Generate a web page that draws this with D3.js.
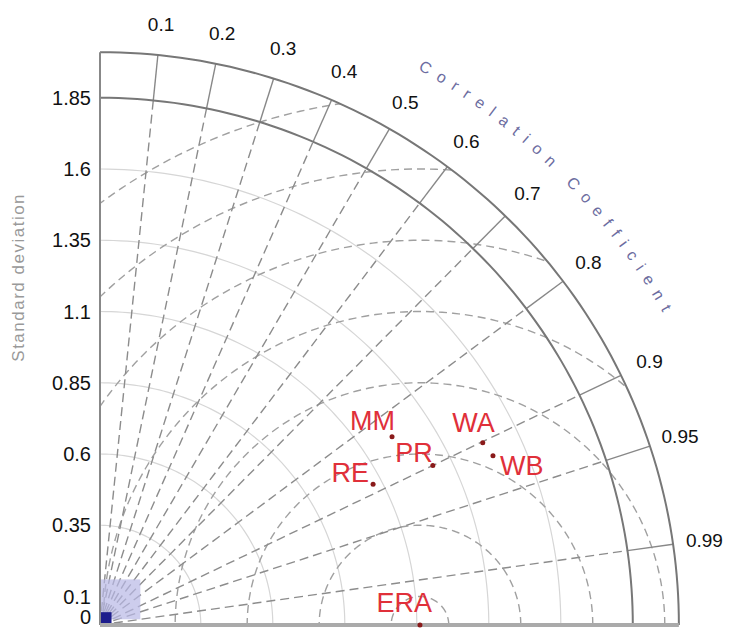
<!DOCTYPE html>
<html lang="en">
<head>
<meta charset="UTF-8">
<title>Taylor diagram</title>
<script src="https://d3js.org/d3.v7.min.js"></script>
<style>
  body { margin: 0; background: #fff; }
  svg { display: block; font-family: "Liberation Sans", Arial, sans-serif; }
</style>
</head>
<body>
<svg></svg>
<script>
const width = 731, height = 631;

// standard deviation ticks (left axis)
const stdTicks = [0, 0.1, 0.35, 0.6, 0.85, 1.1, 1.35, 1.6, 1.85];
const stdTickLabels = ["0", "0.1", "0.35", "0.6", "0.85", "1.1", "1.35", "1.6", "1.85"];
// correlation ticks round the arc
const corrTicks = [0.1, 0.2, 0.3, 0.4, 0.5, 0.6, 0.7, 0.8, 0.9, 0.95, 0.99];
const corrTickLabels = ["0.1", "0.2", "0.3", "0.4", "0.5", "0.6", "0.7", "0.8", "0.9", "0.95", "0.99"];
// centred RMS difference circles around the reference
const rmsLevels = [0.1, 0.35, 0.6, 0.85, 1.1, 1.35, 1.6, 1.85];
const stdMax = 2.01;

// models
const models = ["MM", "PR", "RE", "WA", "WB"];
const modelStd = [1.21, 1.284, 1.069, 1.475, 1.488];
const modelCorr = [0.838, 0.900, 0.887, 0.901, 0.917];
// reference
const refName = "ERA";
const refStd = 1.111;

const svg = d3.select("svg").attr("width", width).attr("height", height);

const x = d3.scaleLinear().domain([0, stdMax]).range([100, 100 + stdMax * 288]);
const y = d3.scaleLinear().domain([0, stdMax]).range([625, 625 - stdMax * 285]);

const polar = (s, c) => [x(s * c), y(s * Math.sqrt(Math.max(0, 1 - c * c)))];
const line = d3.line();
const angles = d3.range(0, 91).map(d => d * Math.PI / 180);

function stdArc(s) {
    return line(angles.map(a => [x(s * Math.cos(a)), y(s * Math.sin(a))]));
}
function rmsCircle(r) {
    const pts = d3.range(0, 181).map(d => {
        const a = d * Math.PI / 180;
        return [x(refStd + r * Math.cos(a)), y(r * Math.sin(a))];
    });
    return line(pts);
}

// clip to the quarter disc
const clipPts = [[x(0), y(0)]].concat(angles.map(a => [x(stdMax * Math.cos(a)), y(stdMax * Math.sin(a))]));
svg.append("clipPath").attr("id", "quarter")
    .append("path").attr("d", line(clipPts) + "Z");

const grid = svg.append("g").attr("clip-path", "url(#quarter)");

// faint std arcs
grid.selectAll(".sarc")
    .data(stdTicks.filter(d => d > 0.3 && d < 1.8))
    .join("path")
    .attr("d", d => stdArc(d))
    .attr("fill", "none")
    .attr("stroke", "#d6d6d6")
    .attr("stroke-width", 1.2);

// RMS circles
grid.selectAll(".rms")
    .data(rmsLevels)
    .join("path")
    .attr("d", d => rmsCircle(d))
    .attr("fill", "none")
    .attr("stroke", "#a0a0a0")
    .attr("stroke-width", 1.4)
    .attr("stroke-dasharray", "8,5");

// radial correlation lines
grid.selectAll(".radial")
    .data(corrTicks)
    .join("line")
    .attr("x1", x(0)).attr("y1", y(0))
    .attr("x2", d => polar(1.85, d)[0])
    .attr("y2", d => polar(1.85, d)[1])
    .attr("stroke", "#8c8c8c")
    .attr("stroke-width", 1.4)
    .attr("stroke-dasharray", "9,5");

svg.selectAll(".tick")
    .data(corrTicks)
    .join("line")
    .attr("x1", d => polar(1.85, d)[0]).attr("y1", d => polar(1.85, d)[1])
    .attr("x2", d => polar(stdMax, d)[0]).attr("y2", d => polar(stdMax, d)[1])
    .attr("stroke", "#888")
    .attr("stroke-width", 1.4);

// blue blob at the origin
svg.append("rect")
    .attr("x", x(0)).attr("y", y(0.16))
    .attr("width", x(0.14) - x(0)).attr("height", y(0.02) - y(0.16))
    .attr("fill", "#b8b8e6").attr("opacity", 0.7);
svg.append("rect")
    .attr("x", x(0)).attr("y", y(0.045))
    .attr("width", x(0.04) - x(0)).attr("height", y(0) - y(0.045))
    .attr("fill", "#1c1c8c");

// solid arcs
svg.append("path").attr("d", stdArc(1.85))
    .attr("fill", "none").attr("stroke", "#777").attr("stroke-width", 2);
svg.append("path").attr("d", stdArc(stdMax))
    .attr("fill", "none").attr("stroke", "#777").attr("stroke-width", 2);

// axes
svg.append("line")
    .attr("x1", x(0)).attr("y1", y(0)).attr("x2", x(0)).attr("y2", y(stdMax))
    .attr("stroke", "#888").attr("stroke-width", 2);
svg.append("line")
    .attr("x1", x(0)).attr("y1", y(0)).attr("x2", x(stdMax)).attr("y2", y(0))
    .attr("stroke", "#aaa").attr("stroke-width", 4);

// std tick labels (the bottom one is kept inside the frame)
svg.selectAll(".slab")
    .data(stdTicks)
    .join("text")
    .attr("x", x(0) - 9)
    .attr("y", d => Math.min(y(d) + 7, height - 7))
    .attr("text-anchor", "end")
    .attr("font-size", 20)
    .attr("fill", "#111")
    .text((d, i) => stdTickLabels[i]);

// correlation tick labels
svg.selectAll(".clab")
    .data(corrTicks)
    .join("text")
    .attr("x", d => polar(2.12, d)[0])
    .attr("y", d => polar(2.12, d)[1])
    .attr("dy", "0.36em")
    .attr("text-anchor", "middle")
    .attr("font-size", 19)
    .attr("fill", "#111")
    .text((d, i) => corrTickLabels[i]);

// axis titles
svg.append("text")
    .attr("transform", `translate(24,${y(1.22)}) rotate(-90)`)
    .attr("text-anchor", "middle")
    .attr("font-size", 17)
    .attr("letter-spacing", 1.5)
    .attr("fill", "#999")
    .text("Standard deviation");

// "Correlation Coefficient" set letter by letter along the arc
const title = "Correlation Coefficient";
const tmp = svg.append("text").attr("font-size", 16);
const widths = Array.from(title).map(ch => {
    tmp.text(ch === " " ? "\u00a0" : ch);
    return tmp.node().getComputedTextLength();
});
tmp.remove();
const rb = 2.24, pxPerUnit = 286.5;
const a0 = 60.5, a1 = 29.3;
const span = rb * pxPerUnit * (a0 - a1) * Math.PI / 180;
const gap = (span - d3.sum(widths)) / (widths.length - 1);
let acc = 0;
const chars = Array.from(title).map((ch, i) => {
    const mid = acc + widths[i] / 2;
    acc += widths[i] + gap;
    const a = a0 - (mid / (rb * pxPerUnit)) * 180 / Math.PI;
    return {ch, a};
});
svg.selectAll(".cc")
    .data(chars.filter(d => d.ch !== " "))
    .join("text")
    .attr("transform", d => {
        const r = d.a * Math.PI / 180;
        return `translate(${x(rb * Math.cos(r))},${y(rb * Math.sin(r))}) rotate(${90 - d.a})`;
    })
    .attr("text-anchor", "middle")
    .attr("font-size", 16)
    .attr("fill", "#6c6ca0")
    .text(d => d.ch);

// points
const labelStyle = {
    MM: {dx: 3, dy: -7, anchor: "end"},
    PR: {dx: 0, dy: -3, anchor: "end"},
    RE: {dx: -4, dy: -2, anchor: "end"},
    WA: {dx: 12, dy: -11, anchor: "end"},
    WB: {dx: 7, dy: 19, anchor: "start"},
    ERA: {dx: 12, dy: -13, anchor: "end"}
};

const pts = models.map((m, i) => ({name: m, s: modelStd[i], c: modelCorr[i]}))
    .concat([{name: refName, s: refStd, c: 1}]);

svg.selectAll(".pt")
    .data(pts)
    .join("circle")
    .attr("cx", d => polar(d.s, d.c)[0])
    .attr("cy", d => polar(d.s, d.c)[1])
    .attr("r", 2.5)
    .attr("fill", "#8a1a1a");

svg.selectAll(".plab")
    .data(pts)
    .join("text")
    .attr("x", d => polar(d.s, d.c)[0] + labelStyle[d.name].dx)
    .attr("y", d => polar(d.s, d.c)[1] + labelStyle[d.name].dy)
    .attr("text-anchor", d => labelStyle[d.name].anchor)
    .attr("font-size", 27)
    .attr("fill", "#e0303a")
    .text(d => d.name);
</script>
</body>
</html>
